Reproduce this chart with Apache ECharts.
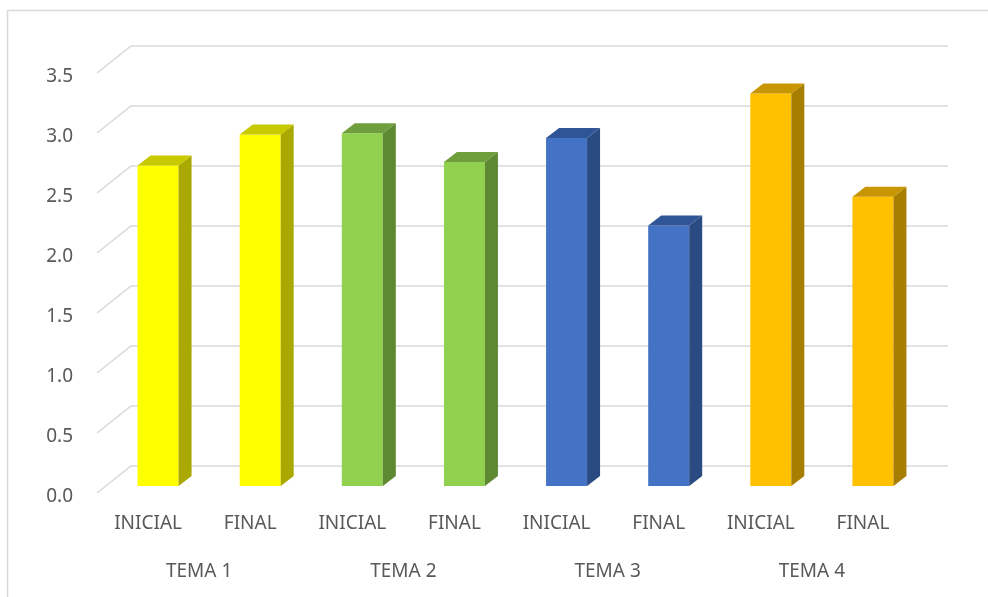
<!DOCTYPE html>
<html>
<head>
<meta charset="utf-8">
<script src="https://cdn.jsdelivr.net/npm/echarts@6/dist/echarts.min.js"></script>
<style>
html, body { margin: 0; padding: 0; background: #fff; }
#container { width: 988px; height: 597px; }
</style>
</head>
<body>
<div id="container"></div>
<script>
var categories = ['INICIAL', 'FINAL', 'INICIAL', 'FINAL', 'INICIAL', 'FINAL', 'INICIAL', 'FINAL'];
var temas = ['TEMA 1', 'TEMA 2', 'TEMA 3', 'TEMA 4'];
var values = [2.67, 2.93, 2.94, 2.70, 2.90, 2.17, 3.27, 2.41];
var ticks = [0, 0.5, 1.0, 1.5, 2.0, 2.5, 3.0, 3.5];

// front / top / side colour per tema
var faceColors = [
    ['#FFFF00', '#C9C900', '#A9A900'],
    ['#92D050', '#6F9E3D', '#5E8932'],
    ['#4472C4', '#2F5597', '#2A4A82'],
    ['#FFC000', '#C89600', '#A87E00']
];

var depth = [34, -27];   // back wall offset
var barShift = [10, -7]; // bar front plane offset
var barDepth = [13, -10];
var barWidth = 41;

var dom = document.getElementById('container');
var myChart = echarts.init(dom);

var barData = values.map(function (v, i) { return [i, v]; });
var gridData = ticks.map(function (t) { return [0, t]; });

function renderGrid(params, api) {
    var v = api.value(1);
    var band = api.size([1, 0])[0];
    var p0 = api.coord([0, v]);
    var p1 = api.coord([categories.length - 1, v]);
    var x0 = p0[0] - band / 2;
    var x1 = p1[0] + band / 2;
    var y = p0[1];
    return {
        type: 'polyline',
        shape: {
            points: [[x0, y], [x0 + depth[0], y + depth[1]], [x1 + depth[0], y + depth[1]]]
        },
        style: { stroke: '#D9D9D9', lineWidth: 1.5, fill: null }
    };
}

function renderBar(params, api) {
    var i = api.value(0);
    var v = api.value(1);
    var top = api.coord([i, v]);
    var base = api.coord([i, 0]);
    var c = faceColors[Math.floor(i / 2)];
    var xl = top[0] + barShift[0] - barWidth / 2;
    var xr = xl + barWidth;
    var yt = top[1] + barShift[1];
    var yb = base[1] + barShift[1];
    var dx = barDepth[0], dy = barDepth[1];
    return {
        type: 'group',
        children: [
            {
                type: 'rect',
                shape: { x: xl, y: yt, width: barWidth, height: yb - yt },
                style: { fill: c[0] }
            },
            {
                type: 'polygon',
                shape: { points: [[xr, yt], [xr + dx, yt + dy], [xr + dx, yb + dy], [xr, yb]] },
                style: { fill: c[2] }
            },
            {
                type: 'polygon',
                shape: { points: [[xl, yt], [xl + dx, yt + dy], [xr + dx, yt + dy], [xr, yt]] },
                style: { fill: c[1] }
            }
        ]
    };
}

var labelStyle = {
    color: '#595959',
    fontFamily: 'Noto Sans',
    fontSize: 19
};

option = {
    animation: false,
    backgroundColor: '#fff',
    graphic: [{
        type: 'rect',
        shape: { x: 7.5, y: 10.5, width: 1200, height: 1200 },
        style: { fill: null, stroke: '#D9D9D9', lineWidth: 1.5 },
        silent: true
    }],
    grid: {
        left: 97,
        right: 74,
        top: 73,
        bottom: 104
    },
    xAxis: [
        {
            type: 'category',
            data: categories,
            axisLine: { show: false },
            axisTick: { show: false },
            axisLabel: Object.assign({ interval: 0, margin: 21 }, labelStyle)
        },
        {
            type: 'category',
            data: temas,
            position: 'bottom',
            offset: 48,
            axisLine: { show: false },
            axisTick: { show: false },
            axisLabel: Object.assign({ interval: 0, margin: 21 }, labelStyle)
        }
    ],
    yAxis: {
        type: 'value',
        min: 0,
        max: 3.5,
        interval: 0.5,
        splitLine: { show: false },
        axisLine: { show: false },
        axisTick: { show: false },
        axisLabel: Object.assign({
            margin: 24,
            verticalAlign: 'top',
            lineHeight: 7,
            formatter: function (v) { return v.toFixed(1); }
        }, labelStyle)
    },
    series: [
        {
            type: 'custom',
            renderItem: renderGrid,
            data: gridData,
            silent: true,
            z: 1
        },
        {
            type: 'custom',
            renderItem: renderBar,
            data: barData,
            z: 2
        }
    ]
};

if (option && typeof option === "object") {
    myChart.setOption(option, true);
}
</script>
</body>
</html>
